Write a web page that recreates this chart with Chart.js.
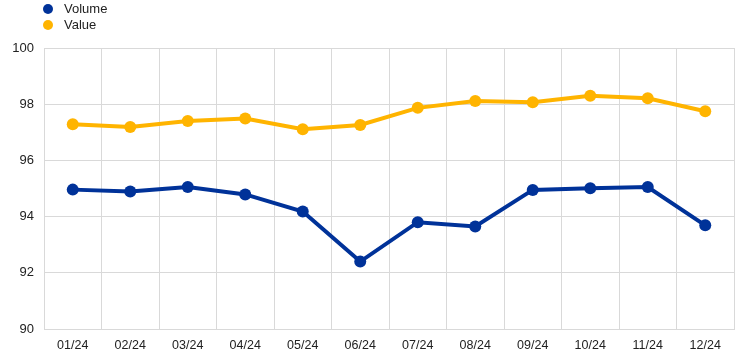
<!DOCTYPE html>
<html>
<head>
<meta charset="utf-8">
<script src="https://cdn.jsdelivr.net/npm/chart.js@4/dist/chart.umd.min.js"></script>
<style>
  html, body { margin: 0; padding: 0; background: #fff; }
  #wrap { position: relative; width: 745px; height: 357px; }
  #legend { position: absolute; left: 43px; top: 1px; font-family: "Liberation Sans", Arial, sans-serif; font-size: 13px; color: #222; }
  .item { height: 16px; line-height: 16px; display: flex; align-items: center; }
  .dot { width: 10px; height: 10px; border-radius: 50%; display: inline-block; margin-right: 11px; }
</style>
</head>
<body>
<div id="wrap">
  <canvas id="c" width="745" height="357"></canvas>
  <div id="legend"></div>
</div>
<script>
const categories = ["01/24","02/24","03/24","04/24","05/24","06/24","07/24","08/24","09/24","10/24","11/24","12/24"];
const volumeValues = [94.96, 94.89, 95.05, 94.79, 94.18, 92.40, 93.80, 93.65, 94.95, 95.01, 95.05, 93.69];
const valueValues  = [97.29, 97.19, 97.40, 97.49, 97.11, 97.26, 97.87, 98.11, 98.07, 98.30, 98.21, 97.75];
const seriesNames = ["Volume", "Value"];
const seriesColors = ["#003299", "#FFB400"];
const yTicks = [90, 92, 94, 96, 98, 100];

const legendEl = document.getElementById('legend');
seriesNames.forEach((n, i) => {
  const d = document.createElement('div');
  d.className = 'item';
  d.innerHTML = '<span class="dot" style="background:' + seriesColors[i] + '"></span><span>' + n + '</span>';
  legendEl.appendChild(d);
});

const yFont = { family: '"Liberation Sans", Arial, sans-serif', size: 13 };
const xFont = { family: '"Liberation Sans", Arial, sans-serif', size: 12.5 };
new Chart(document.getElementById('c'), {
  type: 'line',
  data: {
    labels: categories,
    datasets: [
      { label: seriesNames[0], data: volumeValues, borderColor: seriesColors[0], backgroundColor: seriesColors[0],
        borderWidth: 4, pointRadius: 6, pointHoverRadius: 6, pointBorderWidth: 0, tension: 0 },
      { label: seriesNames[1], data: valueValues, borderColor: seriesColors[1], backgroundColor: seriesColors[1],
        borderWidth: 4, pointRadius: 6, pointHoverRadius: 6, pointBorderWidth: 0, tension: 0 }
    ]
  },
  options: {
    responsive: false,
    animation: false,
    layout: { padding: { top: 48, right: 11, left: 0, bottom: 0 } },
    plugins: { legend: { display: false }, tooltip: { enabled: false } },
    scales: {
      x: {
        offset: true,
        grid: { color: '#d9d9d9', lineWidth: 1, offset: true, drawTicks: false },
        border: { color: '#d9d9d9' },
        ticks: { font: xFont, color: '#222', padding: 9, maxRotation: 0 },
        afterFit: (s) => { s.height = 28; }
      },
      y: {
        min: 90, max: 100,
        afterBuildTicks: (s) => { s.ticks = yTicks.map(v => ({ value: v })); },
        grid: { color: '#d9d9d9', lineWidth: 1, drawTicks: false },
        border: { color: '#d9d9d9' },
        ticks: { font: yFont, color: '#222', padding: 10 },
        afterFit: (s) => { s.width = 44; }
      }
    }
  }
});
</script>
</body>
</html>
